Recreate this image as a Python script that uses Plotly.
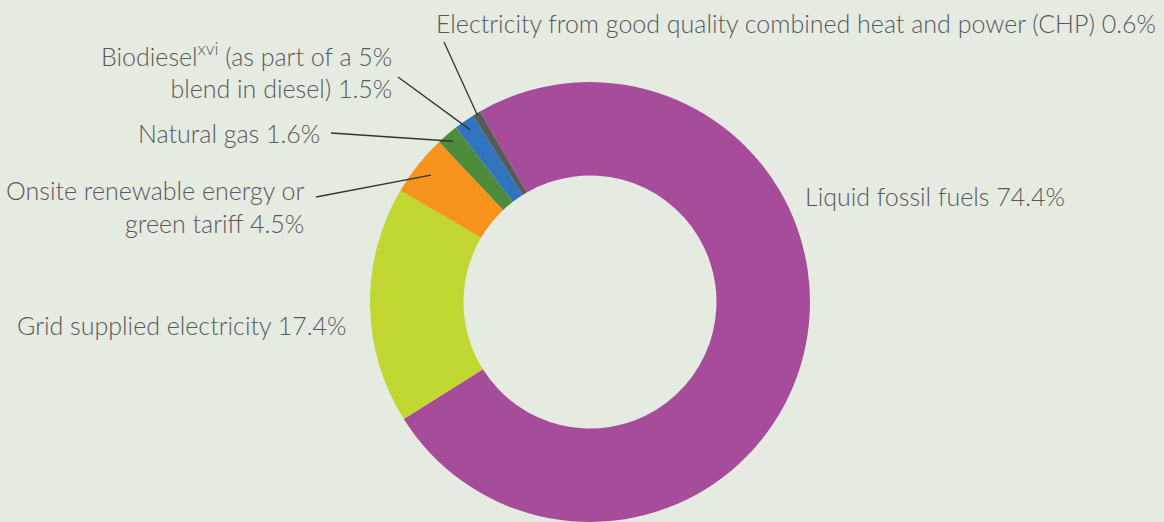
import math
import plotly.graph_objects as go

# ---- data ----
categories = [
    "Liquid fossil fuels",
    "Grid supplied electricity",
    "Onsite renewable energy or green tariff",
    "Natural gas",
    "Biodiesel (as part of a 5% blend in diesel)",
    "Electricity from good quality combined heat and power (CHP)",
]
values = [74.4, 17.4, 4.5, 1.6, 1.5, 0.6]
label_texts = [
    "Liquid fossil fuels 74.4%",
    "Grid supplied electricity 17.4%",
    "Onsite renewable energy or<br>green tariff 4.5%",
    "Natural gas 1.6%",
    "Biodiesel<sup>xvi</sup> (as part of a 5%<br>blend in diesel) 1.5%",
    "Electricity from good quality combined heat and power (CHP) 0.6%",
]

# ---- style / layout ----
colors = ["#A74C9B", "#BFD730", "#F7941D", "#4E8B3B", "#3174BE", "#58595B"]
BG = "#E5EBE0"
TXT = "#58595B"
W, H = 1164, 522
CX, CY, R = 590, 302, 220          # pixel centre (from top) and radius
ROT = 330
HOLE = 0.575

# label anchors: (x_px, block_centre_y_px, xanchor, align)
label_pos = [
    (803, 196, "left", "left"),
    (349, 325, "right", "right"),
    (307, 206, "right", "right"),
    (322, 133, "right", "right"),
    (394, 70, "right", "right"),
    (1158, 23, "right", "right"),
]
# leader lines: text-side start (px) and radial fraction at the slice end
leader_start = {2: (316, 197), 3: (331, 133), 4: (398, 77), 5: (444, 42)}
leader_rfrac = {2: 0.925, 3: 0.96, 4: 0.955, 5: 0.99}

dom_x = [(CX - R) / W, (CX + R) / W]
dom_y = [(H - CY - R) / H, (H - CY + R) / H]
dom_y = [max(0, dom_y[0]), dom_y[1]]

fig = go.Figure(
    go.Pie(
        labels=categories,
        values=values,
        sort=False,
        direction="clockwise",
        rotation=ROT,
        hole=HOLE,
        marker=dict(colors=colors, line=dict(width=0)),
        textinfo="none",
        hoverinfo="label+percent",
        domain=dict(x=dom_x, y=dom_y),
        showlegend=False,
    )
)

annotations = []
for t, (x, y, anchor, align) in zip(label_texts, label_pos):
    annotations.append(
        dict(
            text=t, x=x / W, y=1 - y / H,
            xref="paper", yref="paper", xanchor=anchor, yanchor="middle",
            align=align, showarrow=False,
            font=dict(family="Lato", size=25, color=TXT, weight=300),
        )
    )

shapes = []
total = sum(values)
cum = 0.0
for i, v in enumerate(values):
    mid = ROT + (cum + v / 2) / total * 360
    cum += v
    if i in leader_start:
        a = math.radians(mid)
        rr = R * leader_rfrac[i]
        ex = CX + rr * math.sin(a)
        ey = CY - rr * math.cos(a)
        sx, sy = leader_start[i]
        shapes.append(
            dict(
                type="line", xref="paper", yref="paper",
                x0=sx / W, y0=1 - sy / H, x1=ex / W, y1=1 - ey / H,
                line=dict(color="#333333", width=1.3),
            )
        )

fig.update_layout(
    width=W, height=H,
    margin=dict(l=0, r=0, t=0, b=0),
    paper_bgcolor=BG, plot_bgcolor=BG,
    annotations=annotations, shapes=shapes,
)

fig.write_html("out.html")
